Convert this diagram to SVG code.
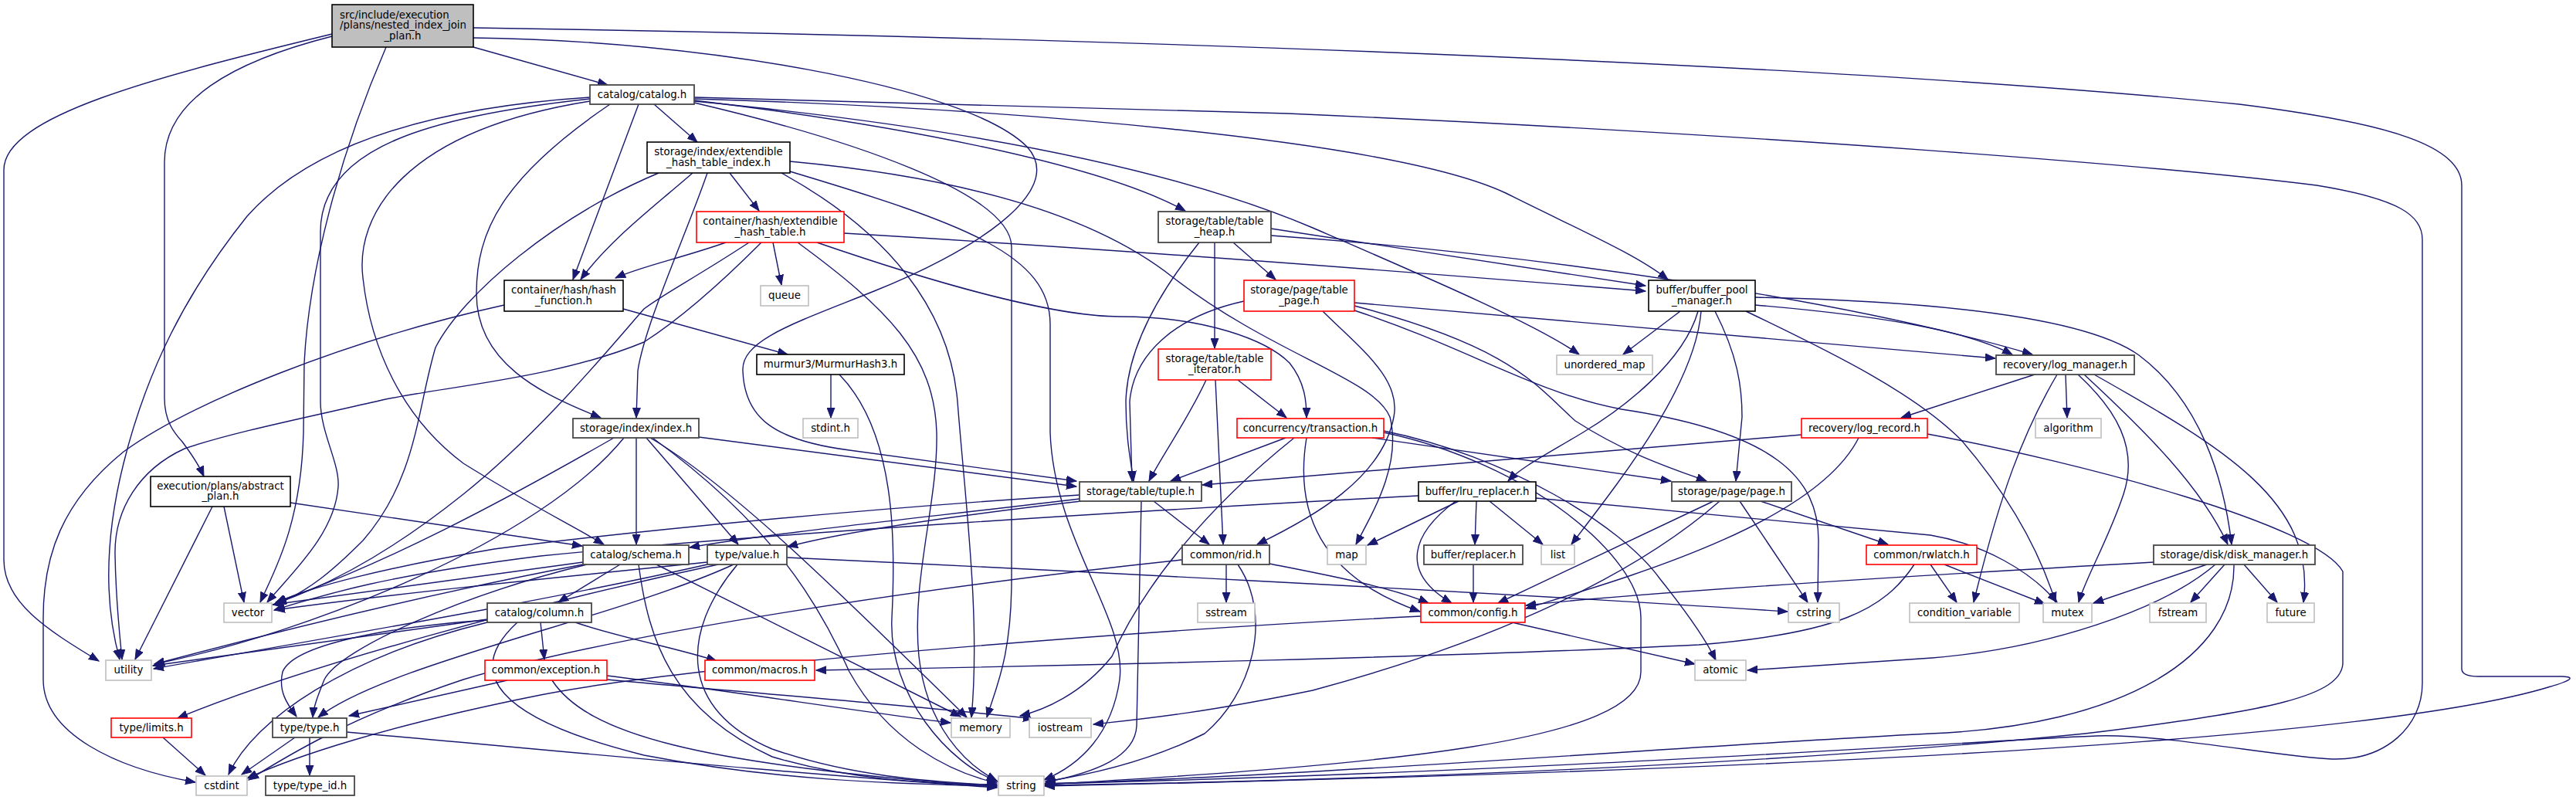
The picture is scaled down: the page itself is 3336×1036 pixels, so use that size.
<svg xmlns="http://www.w3.org/2000/svg" width="3336" height="1036" viewBox="0 0 3336 1036">
<style>
.n rect{fill:#fff;stroke:#000;stroke-width:1.6}
.d rect{fill:#fff;stroke:#484848;stroke-width:1.8}
.r rect{fill:#fff;stroke:#f00;stroke-width:1.6}
.s rect{fill:#fff;stroke:#bfbfbf;stroke-width:1.6}
.m rect{fill:#bfbfbf;stroke:#000;stroke-width:1.6}
text{font-family:"DejaVu Sans","Liberation Sans",sans-serif;font-size:13.33px;fill:#000;text-anchor:middle}
text.l{text-anchor:start}
.e{fill:none;stroke:#191970;stroke-width:1.4;marker-end:url(#arr)}
</style>
<defs>
<marker id="arr" markerUnits="userSpaceOnUse" markerWidth="14" markerHeight="11" refX="13" refY="5.5" orient="auto">
<path d="M0,0.5 L13,5.5 L0,10.5 z" fill="#191970" stroke="#191970" stroke-width="1"/>
</marker>
</defs>
<rect width="3336" height="1036" fill="#fff"/>
<g id="edges">
<path class="e" d="M613,61 L787,110"/>
<path class="e" d="M430,47 C300,80 213,130 213,210 L213,515 C213,545 225,560 236,572 C248,588 258,603 264,617"/>
<path class="e" d="M613,49 C900,52 1250,110 1330,190 C1385,250 1250,330 1132,377 C1030,418 960,440 962,480 C964,540 1000,570 1100,583 L1394,623"/>
<path class="e" d="M500,61 C440,200 400,350 394,470 L393,560 C390,680 355,740 337,780"/>
<path class="e" d="M430,44 C200,100 5,150 5,220 L5,725 C5,780 60,815 128,856"/>
<path class="e" d="M613,36 C1500,50 2400,85 2900,135 C3100,160 3188,190 3188,240 L3188,866 Q3188,876 3210,876 L3318,876 Q3345,877 3300,890 C3150,935 2700,990 1353,1018"/>
<path class="e" d="M847,135 L903,184"/>
<path class="e" d="M827,135 L742,362"/>
<path class="e" d="M899,130 C1150,160 1420,210 1535,273"/>
<path class="e" d="M899,128 C1300,140 1800,180 1950,250 C2050,300 2120,330 2160,362"/>
<path class="e" d="M899,131 C1200,160 1500,210 1700,295 C1850,360 1990,420 2045,459"/>
<path class="e" d="M899,126 L1668,147 C2300,175 2800,215 3000,240 C3110,258 3137,280 3137,310 L3137,885 C3137,940 3090,985 3020,983 C2950,980 2800,950 2715,953 C2600,957 2000,1000 1353,1015"/>
<path class="e" d="M899,133 C1100,180 1310,250 1310,320 L1310,750 C1310,850 1290,890 1278,929"/>
<path class="e" d="M764,128 C560,150 415,190 415,300 L415,520 C415,560 440,600 438,630 C434,690 380,740 346,780"/>
<path class="e" d="M764,126 C550,140 400,190 320,280 C240,380 190,480 160,600 C130,720 140,800 155,854"/>
<path class="e" d="M764,131 C520,170 460,280 470,360 C480,450 520,540 600,600 C680,650 740,680 782,705"/>
<path class="e" d="M790,135 C650,230 617,300 617,380 C617,470 700,510 778,541"/>
<path class="e" d="M290,656 L316,780"/>
<path class="e" d="M275,656 L175,854"/>
<path class="e" d="M376,651 L754,707"/>
<path class="e" d="M945,224 L983,273"/>
<path class="e" d="M897,224 C850,265 790,310 752,362"/>
<path class="e" d="M916,224 C890,300 835,420 826,480 L824,541"/>
<path class="e" d="M853,224 C720,280 600,380 564,450 C540,530 540,620 470,700 C430,740 400,765 357,783"/>
<path class="e" d="M1012,224 C1150,300 1230,400 1240,520 C1250,650 1270,800 1258,929"/>
<path class="e" d="M1023,222 C1250,290 1360,330 1360,420 L1360,560 C1365,700 1460,800 1450,880 C1440,950 1400,990 1352,1010"/>
<path class="e" d="M1023,209 C1250,230 1420,280 1520,360 C1650,460 1780,490 1800,540 C1815,600 1780,660 1756,705"/>
<path class="e" d="M940,314 C880,335 830,345 797,360"/>
<path class="e" d="M1001,314 L1012,369"/>
<path class="e" d="M1058,314 C1250,380 1380,410 1450,410 C1560,410 1640,440 1670,470 C1690,495 1692,520 1692,541"/>
<path class="e" d="M1093,302 C1400,320 1800,350 2131,377"/>
<path class="e" d="M1033,314 C1150,400 1210,460 1213,560 C1215,650 1180,750 1190,850 C1200,940 1250,990 1291,1011"/>
<path class="e" d="M970,314 C900,360 860,380 834,400 C790,450 700,560 600,640 C500,720 420,760 358,781"/>
<path class="e" d="M986,314 C920,380 870,420 834,443 C720,490 580,500 495,518 C400,540 300,560 239,581 C180,608 148,660 149,718 C150,780 155,820 158,854"/>
<path class="e" d="M1597,314 L1652,362"/>
<path class="e" d="M1573,314 L1573,451"/>
<path class="e" d="M1553,314 C1500,380 1460,450 1458,520 C1458,570 1465,600 1468,623"/>
<path class="e" d="M1646,296 L2131,370"/>
<path class="e" d="M1646,305 C2000,330 2400,390 2632,459"/>
<path class="e" d="M807,400 L1020,459"/>
<path class="e" d="M653,395 C450,440 250,520 160,585 C80,650 56,720 56,800 L56,880 C56,950 150,995 253,1013"/>
<path class="e" d="M1076,485 L1076,541"/>
<path class="e" d="M1087,485 C1160,560 1160,700 1155,800 C1150,900 1230,990 1292,1012"/>
<path class="e" d="M1754,392 L2584,464"/>
<path class="e" d="M1754,396 C1960,450 1990,500 2040,545 C2110,590 2170,608 2210,623"/>
<path class="e" d="M1754,402 C1900,450 1990,510 2100,530 C2300,560 2355,620 2355,700 L2354,780"/>
<path class="e" d="M1611,390 C1520,410 1468,460 1463,520 L1466,623"/>
<path class="e" d="M1713,403 C1760,450 1815,490 1805,540 C1790,620 1700,670 1628,705"/>
<path class="e" d="M1562,492 C1540,540 1505,590 1488,623"/>
<path class="e" d="M1574,492 L1584,705"/>
<path class="e" d="M1603,492 L1666,541"/>
<path class="e" d="M2176,403 L2102,459"/>
<path class="e" d="M2199,403 C2180,470 2100,530 2050,560 C2000,590 1970,605 1953,623"/>
<path class="e" d="M2203,403 C2195,500 2100,620 2035,705"/>
<path class="e" d="M2221,403 C2250,460 2256,500 2256,540 L2248,623"/>
<path class="e" d="M2261,403 C2380,460 2480,510 2540,570 C2600,640 2640,710 2662,780"/>
<path class="e" d="M2273,395 C2450,410 2550,430 2606,459"/>
<path class="e" d="M2273,385 C2500,390 2700,410 2770,460 C2850,520 2880,620 2890,705"/>
<path class="e" d="M2635,485 L2462,541"/>
<path class="e" d="M2664,485 C2620,560 2590,640 2556,780"/>
<path class="e" d="M2675,485 L2677,541"/>
<path class="e" d="M2691,485 C2740,530 2770,580 2750,640 C2730,700 2700,750 2692,780"/>
<path class="e" d="M2699,485 C2780,560 2850,630 2885,705"/>
<path class="e" d="M2712,485 C2880,580 3000,650 2983,780"/>
<path class="e" d="M905,566 L1394,630"/>
<path class="e" d="M824,567 L824,705"/>
<path class="e" d="M837,567 L956,705"/>
<path class="e" d="M842,567 C950,630 1100,780 1252,929"/>
<path class="e" d="M845,567 C1000,680 1060,780 1100,870 C1150,960 1230,1000 1291,1014"/>
<path class="e" d="M795,567 C650,650 500,730 357,780"/>
<path class="e" d="M808,567 C700,700 400,820 200,860"/>
<path class="e" d="M1665,567 L1516,623"/>
<path class="e" d="M1676,567 C1560,660 1480,760 1440,850 C1400,900 1350,920 1321,927"/>
<path class="e" d="M1692,567 C1680,640 1690,740 1839,792"/>
<path class="e" d="M1777,567 L2164,623"/>
<path class="e" d="M1792,558 C1950,590 2100,680 2150,750 C2190,800 2210,830 2222,855"/>
<path class="e" d="M1792,560 C1980,600 2125,720 2125,800 L2125,870 C2125,960 1800,990 1353,1016"/>
<path class="e" d="M2333,563 C2000,590 1700,615 1557,628"/>
<path class="e" d="M2407,567 C2350,680 2100,750 1976,788"/>
<path class="e" d="M2496,562 C2700,600 3000,680 3034,740 L3034,860 C3030,900 2950,920 2700,950 C2300,990 1800,1010 1353,1017"/>
<path class="e" d="M1398,646 C1200,670 1000,690 893,709"/>
<path class="e" d="M1400,649 C1200,672 1080,692 1020,708"/>
<path class="e" d="M1494,649 L1566,705"/>
<path class="e" d="M1478,649 L1472,940 C1470,980 1420,1000 1354,1013"/>
<path class="e" d="M1398,641 C1100,660 800,690 640,711 C500,735 400,760 357,781"/>
<path class="e" d="M1889,649 L1771,706"/>
<path class="e" d="M1912,649 L1910,705"/>
<path class="e" d="M1929,649 L1998,705"/>
<path class="e" d="M1885,649 C1830,690 1810,740 1880,781"/>
<path class="e" d="M1989,645 L2500,693 C2570,705 2630,740 2664,780"/>
<path class="e" d="M1837,642 C1500,660 1000,690 700,720 C500,745 420,770 355,790"/>
<path class="e" d="M2219,649 L1940,781"/>
<path class="e" d="M2227,649 C2100,760 1900,840 1700,894 C1550,925 1470,932 1416,938"/>
<path class="e" d="M2253,649 L2341,780"/>
<path class="e" d="M2280,649 L2445,705"/>
<path class="e" d="M1908,731 L1908,780"/>
<path class="e" d="M1958,806 L2195,860"/>
<path class="e" d="M1840,798 C1500,815 900,860 700,900 C500,940 380,980 320,1008"/>
<path class="e" d="M1588,731 L1588,780"/>
<path class="e" d="M1603,731 C1650,800 1620,900 1560,950 C1480,990 1400,1005 1354,1012"/>
<path class="e" d="M1644,730 C1720,745 1800,760 1850,781"/>
<path class="e" d="M1531,725 C1200,760 800,820 600,880 C450,930 370,980 322,1010"/>
<path class="e" d="M803,731 L723,780"/>
<path class="e" d="M755,728 L353,783"/>
<path class="e" d="M755,731 C550,770 350,820 200,860"/>
<path class="e" d="M850,731 L1244,928"/>
<path class="e" d="M827,731 C840,830 870,920 1000,980 C1100,1010 1200,1015 1291,1016"/>
<path class="e" d="M760,731 C600,770 440,840 420,880 C412,900 406,915 405,929"/>
<path class="e" d="M930,731 C700,780 400,860 230,930"/>
<path class="e" d="M950,731 C800,800 500,860 412,929"/>
<path class="e" d="M955,731 C880,820 880,920 1000,970 C1100,1005 1200,1012 1291,1017"/>
<path class="e" d="M1019,722 C1300,735 1900,765 2315,792"/>
<path class="e" d="M916,728 C700,750 500,770 356,790"/>
<path class="e" d="M916,731 C700,780 400,830 199,866"/>
<path class="e" d="M700,806 L705,854"/>
<path class="e" d="M631,803 C500,812 380,835 366,870 C360,895 372,912 384,928"/>
<path class="e" d="M631,802 L198,862"/>
<path class="e" d="M631,806 C450,850 330,930 296,1003"/>
<path class="e" d="M670,806 C600,870 640,930 834,978 C1000,1010 1150,1015 1291,1018"/>
<path class="e" d="M745,806 C800,825 880,840 928,856"/>
<path class="e" d="M657,881 L452,927"/>
<path class="e" d="M786,875 C950,895 1100,920 1231,936"/>
<path class="e" d="M786,880 C1000,900 1200,915 1338,931"/>
<path class="e" d="M715,881 C760,950 900,990 1291,1019"/>
<path class="e" d="M382,955 L313,1003"/>
<path class="e" d="M401,955 L401,1004"/>
<path class="e" d="M449,948 C700,970 1000,1000 1291,1020"/>
<path class="e" d="M211,955 L266,1004"/>
<path class="e" d="M2500,731 L2534,780"/>
<path class="e" d="M2518,731 L2648,782"/>
<path class="e" d="M2479,731 C2440,790 2380,820 2200,835 C1900,850 1400,862 1057,868"/>
<path class="e" d="M2858,731 L2711,781"/>
<path class="e" d="M2881,731 L2837,780"/>
<path class="e" d="M2906,731 L2949,780"/>
<path class="e" d="M2869,731 C2800,790 2650,840 2502,852 L2263,868"/>
<path class="e" d="M2893,731 C2895,850 2750,940 2500,950 C2200,965 1700,1005 1353,1015"/>
<path class="e" d="M2789,728 C2400,750 2100,770 1976,784"/>
</g>
<g id="n_main" class="m"><rect x="430" y="6" width="183" height="55"/><text class="l" x="440" y="24">src/include/execution</text><text class="l" x="440" y="37.4">/plans/nested_index_join</text><text x="521.5" y="50.8">_plan.h</text></g>
<g id="n_catalog" class="d"><rect x="764" y="110" width="135" height="25"/><text x="831.5" y="126.5">catalog/catalog.h</text></g>
<g id="n_extidx" class="n"><rect x="838" y="184" width="185" height="40"/><text x="930.5" y="201.3">storage/index/extendible</text><text x="930.5" y="214.6">_hash_table_index.h</text></g>
<g id="n_exthash" class="r"><rect x="902" y="274" width="191" height="40"/><text x="997.5" y="291.3">container/hash/extendible</text><text x="997.5" y="304.6">_hash_table.h</text></g>
<g id="n_hashfn" class="n"><rect x="653" y="363" width="154" height="40"/><text x="730" y="380.3">container/hash/hash</text><text x="730" y="393.6">_function.h</text></g>
<g id="n_queue" class="s"><rect x="985" y="370" width="62" height="26"/><text x="1016" y="387">queue</text></g>
<g id="n_murmur" class="n"><rect x="980" y="459" width="191" height="26"/><text x="1075.5" y="476">murmur3/MurmurHash3.h</text></g>
<g id="n_heap" class="d"><rect x="1500" y="274" width="146" height="40"/><text x="1573" y="291.3">storage/table/table</text><text x="1573" y="304.6">_heap.h</text></g>
<g id="n_tpage" class="r"><rect x="1611" y="363" width="143" height="40"/><text x="1682.5" y="380.3">storage/page/table</text><text x="1682.5" y="393.6">_page.h</text></g>
<g id="n_titer" class="r"><rect x="1500" y="452" width="146" height="40"/><text x="1573" y="469.3">storage/table/table</text><text x="1573" y="482.6">_iterator.h</text></g>
<g id="n_bpm" class="n"><rect x="2135" y="363" width="138" height="40"/><text x="2204" y="380.3">buffer/buffer_pool</text><text x="2204" y="393.6">_manager.h</text></g>
<g id="n_umap" class="s"><rect x="2016" y="460" width="124" height="25"/><text x="2078" y="476.5">unordered_map</text></g>
<g id="n_logmgr" class="d"><rect x="2585" y="460" width="179" height="25"/><text x="2674.5" y="476.5">recovery/log_manager.h</text></g>
<g id="n_index" class="d"><rect x="742" y="542" width="163" height="25"/><text x="823.5" y="558.5">storage/index/index.h</text></g>
<g id="n_stdint" class="s"><rect x="1040" y="542" width="71" height="25"/><text x="1075.5" y="558.5">stdint.h</text></g>
<g id="n_txn" class="r"><rect x="1602" y="542" width="190" height="25"/><text x="1697" y="558.5">concurrency/transaction.h</text></g>
<g id="n_logrec" class="r"><rect x="2333" y="542" width="163" height="25"/><text x="2414.5" y="558.5">recovery/log_record.h</text></g>
<g id="n_algo" class="s"><rect x="2636" y="542" width="85" height="25"/><text x="2678.5" y="558.5">algorithm</text></g>
<g id="n_abstract" class="n"><rect x="195" y="617" width="181" height="39"/><text x="285.5" y="633.8">execution/plans/abstract</text><text x="285.5" y="647.1">_plan.h</text></g>
<g id="n_tuple" class="d"><rect x="1398" y="624" width="158" height="25"/><text x="1477" y="640.5">storage/table/tuple.h</text></g>
<g id="n_lru" class="n"><rect x="1837" y="624" width="152" height="25"/><text x="1913" y="640.5">buffer/lru_replacer.h</text></g>
<g id="n_page" class="d"><rect x="2165" y="624" width="155" height="25"/><text x="2242.5" y="640.5">storage/page/page.h</text></g>
<g id="n_schema" class="d"><rect x="755" y="706" width="137" height="25"/><text x="823.5" y="722.5">catalog/schema.h</text></g>
<g id="n_value" class="d"><rect x="916" y="706" width="103" height="25"/><text x="967.5" y="722.5">type/value.h</text></g>
<g id="n_rid" class="d"><rect x="1531" y="706" width="113" height="25"/><text x="1587.5" y="722.5">common/rid.h</text></g>
<g id="n_map" class="s"><rect x="1719" y="706" width="50" height="25"/><text x="1744" y="722.5">map</text></g>
<g id="n_replacer" class="d"><rect x="1844" y="706" width="128" height="25"/><text x="1908" y="722.5">buffer/replacer.h</text></g>
<g id="n_list" class="s"><rect x="1996" y="706" width="43" height="25"/><text x="2017.5" y="722.5">list</text></g>
<g id="n_rwlatch" class="r"><rect x="2417" y="706" width="143" height="25"/><text x="2488.5" y="722.5">common/rwlatch.h</text></g>
<g id="n_disk" class="d"><rect x="2789" y="706" width="209" height="25"/><text x="2893.5" y="722.5">storage/disk/disk_manager.h</text></g>
<g id="n_vector" class="s"><rect x="290" y="781" width="62" height="25"/><text x="321" y="797.5">vector</text></g>
<g id="n_column" class="d"><rect x="631" y="781" width="135" height="25"/><text x="698.5" y="797.5">catalog/column.h</text></g>
<g id="n_sstream" class="s"><rect x="1551" y="781" width="74" height="25"/><text x="1588" y="797.5">sstream</text></g>
<g id="n_config" class="r"><rect x="1840" y="781" width="135" height="25"/><text x="1907.5" y="797.5">common/config.h</text></g>
<g id="n_cstring" class="s"><rect x="2316" y="781" width="66" height="25"/><text x="2349" y="797.5">cstring</text></g>
<g id="n_condvar" class="s"><rect x="2473" y="781" width="142" height="25"/><text x="2544" y="797.5">condition_variable</text></g>
<g id="n_mutex" class="s"><rect x="2646" y="781" width="63" height="25"/><text x="2677.5" y="797.5">mutex</text></g>
<g id="n_fstream" class="s"><rect x="2784" y="781" width="73" height="25"/><text x="2820.5" y="797.5">fstream</text></g>
<g id="n_future" class="s"><rect x="2936" y="781" width="61" height="25"/><text x="2966.5" y="797.5">future</text></g>
<g id="n_utility" class="s"><rect x="137" y="855" width="59" height="26"/><text x="166.5" y="872">utility</text></g>
<g id="n_exception" class="r"><rect x="628" y="855" width="158" height="26"/><text x="707" y="872">common/exception.h</text></g>
<g id="n_macros" class="r"><rect x="913" y="855" width="142" height="26"/><text x="984" y="872">common/macros.h</text></g>
<g id="n_atomic" class="s"><rect x="2195" y="855" width="66" height="26"/><text x="2228" y="872">atomic</text></g>
<g id="n_limits" class="r"><rect x="144" y="930" width="104" height="25"/><text x="196" y="946.5">type/limits.h</text></g>
<g id="n_type" class="d"><rect x="353" y="930" width="96" height="25"/><text x="401" y="946.5">type/type.h</text></g>
<g id="n_memory" class="s"><rect x="1232" y="930" width="76" height="25"/><text x="1270" y="946.5">memory</text></g>
<g id="n_iostream" class="s"><rect x="1333" y="930" width="80" height="25"/><text x="1373" y="946.5">iostream</text></g>
<g id="n_cstdint" class="s"><rect x="254" y="1005" width="66" height="25"/><text x="287" y="1021.5">cstdint</text></g>
<g id="n_typeid" class="d"><rect x="344" y="1005" width="115" height="25"/><text x="401.5" y="1021.5">type/type_id.h</text></g>
<g id="n_string" class="s"><rect x="1293" y="1005" width="59" height="25"/><text x="1322.5" y="1021.5">string</text></g>
</svg>
